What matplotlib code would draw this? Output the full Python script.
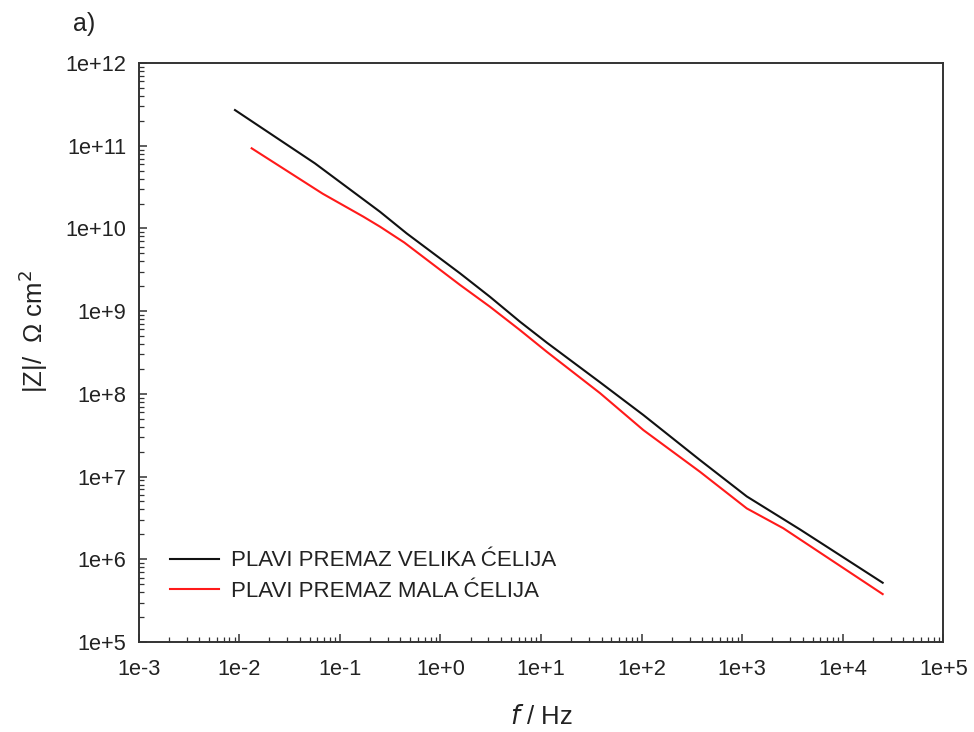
import matplotlib
matplotlib.use("Agg")
import matplotlib.pyplot as plt
from matplotlib.ticker import LogLocator, NullFormatter, FixedLocator, FixedFormatter

plt.rcParams['font.family'] = ['Liberation Sans', 'DejaVu Sans']

# Data (frequency in Hz, |Z| in Ohm cm^2)
f_velika = [0.00908, 0.0566, 0.251, 0.462, 1.57, 3.11, 6.18, 11.4, 38.6, 104, 381, 1110, 3760, 6920, 24900]
z_velika = [2.70e11, 6.12e10, 1.59e10, 8.71e9, 2.86e9, 1.49e9, 7.45e8, 4.17e8, 1.38e8, 5.55e7, 1.58e7, 5.75e6, 2.29e6, 1.42e6, 5.20e5]

f_mala = [0.0133, 0.0676, 0.171, 0.251, 0.437, 1.57, 3.11, 6.18, 11.4, 38.6, 104, 381, 1110, 2560, 24900]
z_mala = [9.31e10, 2.63e10, 1.39e10, 1.05e10, 6.76e9, 2.07e9, 1.13e9, 5.90e8, 3.23e8, 1.02e8, 3.65e7, 1.14e7, 4.12e6, 2.37e6, 3.79e5]

labels = ['PLAVI PREMAZ VELIKA ĆELIJA', 'PLAVI PREMAZ MALA ĆELIJA']
colors = ['#111111', '#ff1a1a']

x_ticks = [1e-3, 1e-2, 1e-1, 1e0, 1e1, 1e2, 1e3, 1e4, 1e5]
x_ticklabels = ['1e-3', '1e-2', '1e-1', '1e+0', '1e+1', '1e+2', '1e+3', '1e+4', '1e+5']
y_ticks = [1e5, 1e6, 1e7, 1e8, 1e9, 1e10, 1e11, 1e12]
y_ticklabels = ['1e+5', '1e+6', '1e+7', '1e+8', '1e+9', '1e+10', '1e+11', '1e+12']

fig = plt.figure(figsize=(9.74, 7.32), dpi=100)
ax = fig.add_axes([0.1423, 0.1230, 0.9686 - 0.1423, 0.9139 - 0.1230])

ax.plot(f_velika, z_velika, color=colors[0], lw=1.5, label=labels[0])
ax.plot(f_mala, z_mala, color=colors[1], lw=1.5, label=labels[1])

ax.set_xscale('log')
ax.set_yscale('log')
ax.set_xlim(1e-3, 1e5)
ax.set_ylim(1e5, 1e12)

ax.xaxis.set_major_locator(FixedLocator(x_ticks))
ax.xaxis.set_major_formatter(FixedFormatter(x_ticklabels))
ax.yaxis.set_major_locator(FixedLocator(y_ticks))
ax.yaxis.set_major_formatter(FixedFormatter(y_ticklabels))
ax.xaxis.set_minor_locator(LogLocator(base=10, subs=range(2, 10), numticks=100))
ax.yaxis.set_minor_locator(LogLocator(base=10, subs=range(2, 10), numticks=100))
ax.xaxis.set_minor_formatter(NullFormatter())
ax.yaxis.set_minor_formatter(NullFormatter())

ax.tick_params(which='major', direction='in', length=6, width=1.1, color='#333333',
               labelsize=15.7, labelcolor='#222222', top=False, right=False)
ax.tick_params(axis='x', which='major', pad=12)
ax.tick_params(axis='y', which='major', pad=9)
ax.tick_params(which='minor', direction='in', length=3.5, width=0.9, color='#333333',
               top=False, right=False)

for s in ax.spines.values():
    s.set_linewidth(1.4)
    s.set_color('#333333')

ax.set_xlabel(r'$\mathit{f}$ / Hz', fontsize=18.5, color='#222222', labelpad=18)
fig.text(0.034, 0.548, '|Z|/  Ω cm$^2$', rotation=90, fontsize=18.5, color='#222222',
         ha='center', va='center')

fig.text(0.075, 0.967, 'a)', fontsize=18, color='#222222', ha='left', va='center')

leg = ax.legend(loc='lower left', bbox_to_anchor=(0.014, 0.035), frameon=False,
                fontsize=16, handlelength=2.2, handletextpad=0.55, labelspacing=0.42,
                labelcolor='#222222')

fig.savefig('out.png', dpi=100)
